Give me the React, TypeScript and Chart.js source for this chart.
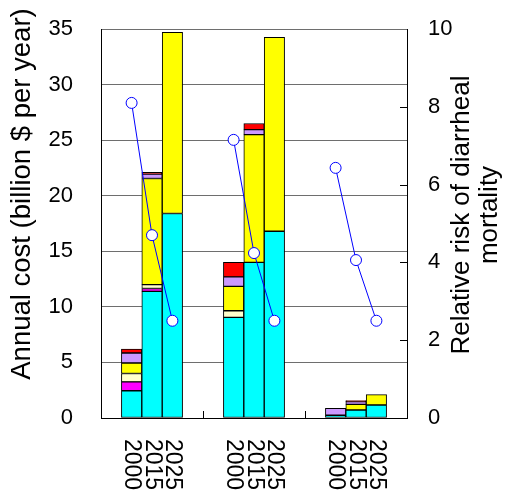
import React, { useEffect, useRef } from "react";
import { Chart, registerables } from "chart.js";

Chart.register(...registerables);

const categories = ["", "2000", "2015", "2025", "", "", "2000", "2015", "2025", "", "", "2000", "2015", "2025", ""];
const cyanValues = [null, 2.45, 11.4, 18.4, null, null, 9.05, 14.0, 16.8, null, null, 0.25, 0.72, 1.17, null];
const magentaValues = [null, 0.8, 0.25, null, null, null, null, null, null, null, null, null, null, null, null];
const creamValues = [null, 0.75, 0.35, null, null, null, 0.6, null, null, null, null, null, null, null, null];
const yellowValues = [null, 0.95, 9.55, 16.3, null, null, 2.2, 11.5, 17.45, null, null, null, 0.5, 0.93, null];
const lavenderValues = [null, 0.9, 0.4, null, null, null, 0.85, 0.45, null, null, null, 0.62, 0.25, null, null];
const redValues = [null, 0.35, 0.15, null, null, null, 1.3, 0.55, null, null, null, null, 0.1, null, null];
const riskValues = [null, 8.1, 4.7, 2.5, null, null, 7.15, 4.24, 2.5, null, null, 6.43, 4.06, 2.5, null];
const costTicks = [0, 5, 10, 15, 20, 25, 30, 35];
const riskTicks = [0, 2, 4, 6, 8, 10];
const leftTitle = "Annual cost (billion $ per year)";
const rightTitleLines = ["Relative risk of diarrheal", "mortality"];

const FONT = "'Liberation Sans', Arial, sans-serif";

const customPlugin = {
  id: "custom",
  afterDraw(chart: any) {
    const ctx = chart.ctx;
    const x = chart.scales.x;
    const y1 = chart.scales.y1;
    const area = chart.chartArea;
    ctx.save();
    ctx.strokeStyle = "#000";
    ctx.lineWidth = 1;
    riskTicks.forEach((v) => {
      if (v === 0 || v === 10) return;
      const py = Math.round(y1.getPixelForValue(v)) + 0.5;
      ctx.beginPath();
      ctx.moveTo(area.right - 7, py);
      ctx.lineTo(area.right, py);
      ctx.stroke();
    });
    [4, 9].forEach((i) => {
      const px = Math.round((x.getPixelForValue(i) + x.getPixelForValue(i + 1)) / 2) + 0.5;
      ctx.beginPath();
      ctx.moveTo(px, area.bottom);
      ctx.lineTo(px, area.bottom - 7);
      ctx.stroke();
    });
    ctx.fillStyle = "#000";
    ctx.font = `23px ${FONT}`;
    ctx.textAlign = "left";
    ctx.textBaseline = "middle";
    categories.forEach((lab, i) => {
      if (!lab) return;
      const px = x.getPixelForValue(i);
      ctx.save();
      ctx.translate(px, area.bottom + 21);
      ctx.rotate(Math.PI / 2);
      ctx.fillText(lab, 0, 0);
      ctx.restore();
    });
    ctx.font = `27.5px ${FONT}`;
    ctx.textAlign = "center";
    ctx.save();
    ctx.translate(14, 186);
    ctx.rotate(-Math.PI / 2);
    ctx.fillText(leftTitle, 0, 0);
    ctx.restore();
    ctx.font = `26px ${FONT}`;
    rightTitleLines.forEach((line, k) => {
      ctx.save();
      ctx.translate(454 + k * 28, 207);
      ctx.rotate(-Math.PI / 2);
      ctx.fillText(line, 0, 0);
      ctx.restore();
    });
    ctx.restore();
  },
};

export default function App() {
  const ref = useRef<HTMLCanvasElement>(null);
  useEffect(() => {
    if (!ref.current) return;
    Chart.defaults.font.family = FONT;
    const barDs = (data: any[], color: string) => ({
      type: "bar" as const,
      data,
      backgroundColor: color,
      borderColor: "#000",
      borderWidth: 1,
      borderSkipped: false,
      yAxisID: "y",
      stack: "s",
      order: 1,
      barPercentage: 1.0,
      categoryPercentage: 1.0,
    });
    const chart = new Chart(ref.current, {
      type: "bar",
      data: {
        labels: categories,
        datasets: [
          {
            type: "line" as const,
            data: riskValues,
            yAxisID: "y1",
            borderColor: "#0000ff",
            borderWidth: 1,
            pointRadius: 5.5,
            pointBackgroundColor: "#ffffff",
            pointBorderColor: "#0000ff",
            pointBorderWidth: 1,
            spanGaps: false,
            order: 0,
          } as any,
          barDs(cyanValues, "#00ffff"),
          barDs(magentaValues, "#ff00ff"),
          barDs(creamValues, "#ffffcc"),
          barDs(yellowValues, "#ffff00"),
          barDs(lavenderValues, "#cc99ff"),
          barDs(redValues, "#ff0000"),
        ],
      },
      options: {
        responsive: false,
        animation: false,
        layout: { padding: { top: 21, left: 0, right: 0, bottom: 0 } },
        plugins: { legend: { display: false }, tooltip: { enabled: false } },
        scales: {
          x: {
            type: "category",
            offset: true,
            stacked: true,
            grid: { display: false, drawTicks: false },
            border: { display: true, color: "#000", width: 1 },
            ticks: { display: false },
            afterFit: (s: any) => {
              s.height = 72;
              s.paddingLeft = 0;
              s.paddingRight = 0;
            },
          },
          y: {
            position: "left",
            stacked: true,
            min: 0,
            max: 35,
            afterBuildTicks: (s: any) => {
              s.ticks = costTicks.map((v) => ({ value: v }));
            },
            grid: {
              color: (c: any) => (c.tick && c.tick.value === 0 ? "rgba(0,0,0,0)" : "#6e6e6e"),
              drawTicks: false,
              lineWidth: 1,
            },
            border: { display: true, color: "#000", width: 1 },
            ticks: { font: { size: 22 }, color: "#000", padding: 28 },
            afterFit: (s: any) => {
              s.width = 93;
              s.paddingTop = 0;
              s.paddingBottom = 0;
            },
          },
          y1: {
            position: "right",
            min: 0,
            max: 10,
            afterBuildTicks: (s: any) => {
              s.ticks = riskTicks.map((v) => ({ value: v }));
            },
            grid: { drawOnChartArea: false, drawTicks: false },
            border: { display: true, color: "#000", width: 1 },
            ticks: { font: { size: 22 }, color: "#000", padding: 21 },
            afterFit: (s: any) => {
              s.width = 103;
              s.paddingTop = 0;
              s.paddingBottom = 0;
            },
          },
        },
      },
      plugins: [customPlugin],
    } as any);
    return () => chart.destroy();
  }, []);
  return (
    <div>
      <canvas ref={ref} width={502} height={482} style={{ display: "block" }} />
    </div>
  );
}
